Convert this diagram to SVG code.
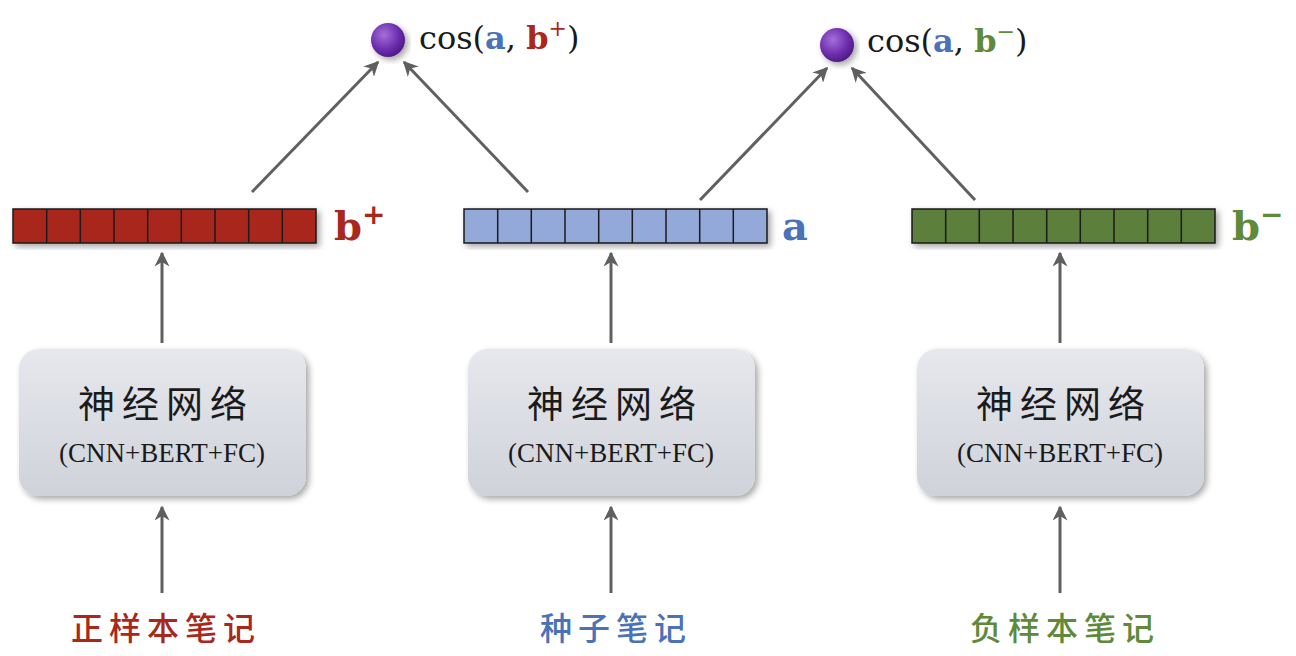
<svg xmlns="http://www.w3.org/2000/svg" width="1296" height="656" viewBox="0 0 1296 656">
<defs>
<marker id="ah" viewBox="0 0 10 10" refX="9" refY="5" markerWidth="5" markerHeight="5" orient="auto" markerUnits="strokeWidth">
<path d="M0,0 L10,5 L0,10 L3,5 z" fill="#5f5f5f"/>
</marker>
<radialGradient id="sph" cx="0.38" cy="0.35" r="0.7">
<stop offset="0" stop-color="#a56fd8"/>
<stop offset="0.6" stop-color="#6e2fb0"/>
<stop offset="1" stop-color="#4a1a80"/>
</radialGradient>
<linearGradient id="nodeg" x1="0" y1="0" x2="0" y2="1">
<stop offset="0" stop-color="#e6e8ed"/>
<stop offset="1" stop-color="#cfd2d9"/>
</linearGradient>
<filter id="sh" x="-10%" y="-10%" width="125%" height="130%">
<feDropShadow dx="3" dy="3" stdDeviation="3" flood-color="#000" flood-opacity="0.35"/>
</filter>
</defs>
<style>
.conn line{stroke:#606060;stroke-width:3;marker-end:url(#ah);}
.node rect{fill:url(#nodeg);filter:url(#sh);}
.zh{font-family:"Noto Sans CJK SC",sans-serif;font-size:37px;font-weight:400;fill:#1a1a1a;text-anchor:middle;letter-spacing:7px;}
.en{font-family:"Liberation Serif",serif;font-size:27px;fill:#1a1a1a;text-anchor:middle;}
.lab{font-family:"Noto Sans CJK SC",sans-serif;font-size:32px;font-weight:500;text-anchor:middle;letter-spacing:6px;}
.vec{font-family:"DejaVu Serif","Liberation Serif",serif;font-weight:bold;font-size:40px;}
.cos{font-family:"DejaVu Serif","Liberation Serif",serif;font-size:32px;fill:#1a1a1a;}
.cell{stroke:#1a1a1a;stroke-width:1.5;}
</style>
<rect width="1296" height="656" fill="#ffffff"/>

<g id="vec-bplus" filter="url(#sh)">
<rect x="13" y="209" width="303" height="34" fill="#a8281c" class="cell"/>
<path d="M46.7,209V243M80.3,209V243M114,209V243M147.7,209V243M181.3,209V243M215,209V243M248.7,209V243M282.3,209V243" stroke="#1a1a1a" stroke-width="1.5"/>
</g>
<text x="334" y="240" class="vec" fill="#a8281c">b<tspan dy="-16" font-size="28">+</tspan></text>

<g id="vec-a" filter="url(#sh)">
<rect x="464" y="209" width="303" height="34" fill="#93a9d9" class="cell"/>
<path d="M497.7,209V243M531.3,209V243M565,209V243M598.7,209V243M632.3,209V243M666,209V243M699.7,209V243M733.3,209V243" stroke="#1a1a1a" stroke-width="1.5"/>
</g>
<text x="782" y="240" class="vec" fill="#4a72b8">a</text>

<g id="vec-bminus" filter="url(#sh)">
<rect x="912" y="209" width="303" height="34" fill="#5b7f3b" class="cell"/>
<path d="M945.7,209V243M979.3,209V243M1013,209V243M1046.7,209V243M1080.3,209V243M1114,209V243M1147.7,209V243M1181.3,209V243" stroke="#1a1a1a" stroke-width="1.5"/>
</g>
<text x="1232" y="240" class="vec" fill="#5e8a3a">b<tspan dy="-16" font-size="28">−</tspan></text>

<g id="node-left" class="node">
<rect x="19" y="349" width="287" height="147" rx="20"/>
<text x="166" y="418" class="zh">神经网络</text>
<text x="162" y="462" class="en">(CNN+BERT+FC)</text>
</g>
<g id="node-mid" class="node">
<rect x="468" y="349" width="287" height="147" rx="20"/>
<text x="615" y="418" class="zh">神经网络</text>
<text x="611" y="462" class="en">(CNN+BERT+FC)</text>
</g>
<g id="node-right" class="node">
<rect x="917" y="349" width="287" height="147" rx="20"/>
<text x="1064" y="418" class="zh">神经网络</text>
<text x="1060" y="462" class="en">(CNN+BERT+FC)</text>
</g>

<g id="cos-plus">
<circle cx="388" cy="40" r="17" fill="url(#sph)" filter="url(#sh)"/>
<text x="419" y="49" class="cos">cos(<tspan fill="#4a72b8" font-weight="bold">a</tspan>, <tspan fill="#a8281c" font-weight="bold">b</tspan><tspan fill="#a8281c" dy="-13" font-size="22">+</tspan><tspan dy="13">)</tspan></text>
</g>
<g id="cos-minus">
<circle cx="837" cy="45" r="17" fill="url(#sph)" filter="url(#sh)"/>
<text x="867" y="52" class="cos">cos(<tspan fill="#4a72b8" font-weight="bold">a</tspan>, <tspan fill="#5e8a3a" font-weight="bold">b</tspan><tspan fill="#5e8a3a" dy="-13" font-size="22">−</tspan><tspan dy="13">)</tspan></text>
</g>

<g id="label-pos"><text x="166" y="640" class="lab" fill="#a8281c">正样本笔记</text></g>
<g id="label-seed"><text x="616" y="640" class="lab" fill="#4a72b8">种子笔记</text></g>
<g id="label-neg"><text x="1065" y="640" class="lab" fill="#5e8a3a">负样本笔记</text></g>

<g id="connectors" class="conn">
<line x1="162" y1="593" x2="162" y2="507"/>
<line x1="611" y1="593" x2="611" y2="507"/>
<line x1="1060" y1="593" x2="1060" y2="507"/>
<line x1="162" y1="343" x2="162" y2="253"/>
<line x1="611" y1="343" x2="611" y2="253"/>
<line x1="1060" y1="343" x2="1060" y2="253"/>
<line x1="252" y1="192" x2="378" y2="62"/>
<line x1="528" y1="192" x2="404" y2="62"/>
<line x1="700" y1="200" x2="827" y2="68"/>
<line x1="975" y1="200" x2="852" y2="68"/>
</g>
</svg>
